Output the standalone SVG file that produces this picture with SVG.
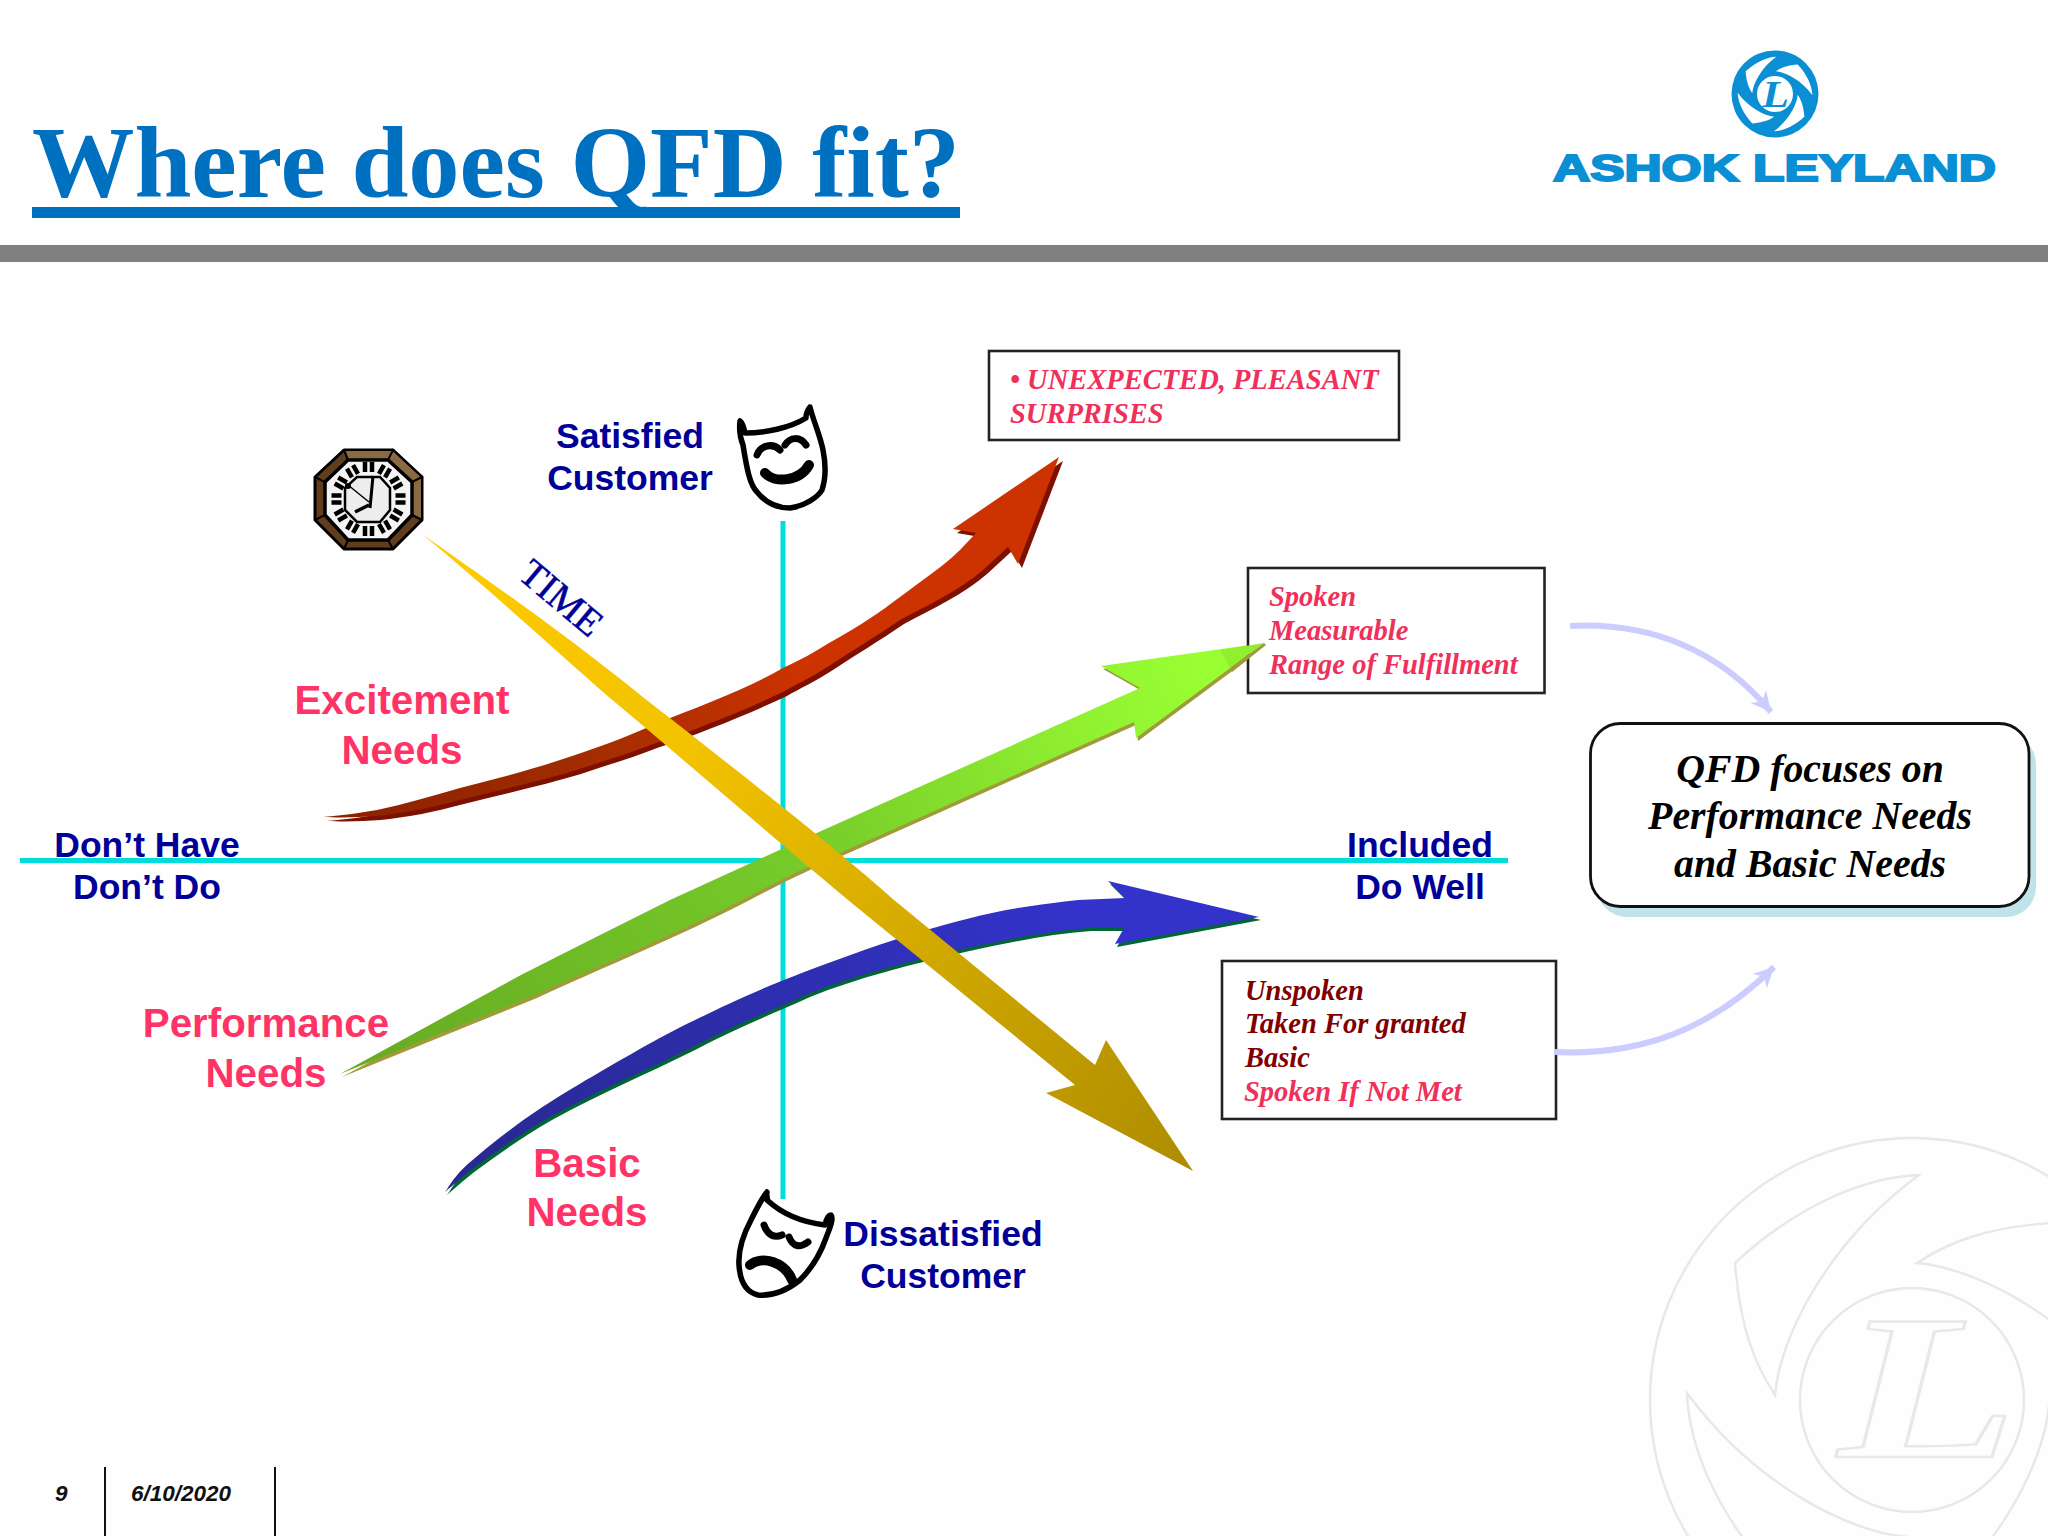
<svg xmlns="http://www.w3.org/2000/svg" xmlns:xlink="http://www.w3.org/1999/xlink" width="2048" height="1536" viewBox="0 0 2048 1536">
<style>
.lab{font-family:"Liberation Sans",Arial,sans-serif;font-weight:bold;text-anchor:middle}
.blue{fill:#000099;font-size:35.5px}
.pink{fill:#ff3366;font-size:40.3px}
.note{font-family:"Liberation Serif","Times New Roman",serif;font-style:italic;font-weight:bold;font-size:28.5px}
.red{fill:#f0305a}
.maroon{fill:#800000}
.box{fill:#fff;stroke:#222;stroke-width:2.6}
.axis{fill:#00dddd}
.curve{fill:none;stroke:#ccccff;stroke-width:6;marker-end:url(#mh)}
.foot{font-family:"Liberation Sans",Arial,sans-serif;font-weight:bold;font-style:italic;font-size:22.5px;fill:#111}
.face{fill:#fff;stroke:#000;stroke-width:5.5;stroke-linejoin:round;stroke-linecap:round}
.ink{fill:none;stroke:#000;stroke-linecap:round;stroke-width:7}
.wm{fill:none;stroke:#e7e7ec;stroke-width:2.4}
</style>
<defs>
<marker id="mh" markerUnits="userSpaceOnUse" markerWidth="26" markerHeight="26" refX="20" refY="10" orient="auto"><path d="M0,0L20,10L0,20L6,10Z" fill="#ccccff"/></marker>
<linearGradient id="gRed" gradientUnits="userSpaceOnUse" x1="324" y1="820" x2="800" y2="660"><stop offset="0" stop-color="#8a1f00"/><stop offset="0.5" stop-color="#a02c00"/><stop offset="1" stop-color="#cc3300"/></linearGradient>
<linearGradient id="gGreen" gradientUnits="userSpaceOnUse" x1="343" y1="1072" x2="1200" y2="660"><stop offset="0" stop-color="#66aa22"/><stop offset="0.55" stop-color="#77cc2a"/><stop offset="0.85" stop-color="#90f030"/><stop offset="1" stop-color="#99ff33"/></linearGradient>
<linearGradient id="gBlue" gradientUnits="userSpaceOnUse" x1="445" y1="1192" x2="1100" y2="900"><stop offset="0" stop-color="#28288f"/><stop offset="1" stop-color="#3333cc"/></linearGradient>
<linearGradient id="gYel" gradientUnits="userSpaceOnUse" x1="420" y1="534" x2="1193" y2="1171"><stop offset="0" stop-color="#ffcc00"/><stop offset="0.35" stop-color="#f2c200"/><stop offset="1" stop-color="#ad8c00"/></linearGradient>
<path id="blade" d="M7,-225C-45,-223 -112,-197 -177,-137C-172,-73 -158,-37 -137,-5C-132,-63 -85,-157 7,-225Z"/>
<path id="redA" d="M323,817C345,815 360,813 377,810C405,804 432,796 460,788C495,779 530,770 560,760C590,750 625,738 653,725C700,706 745,690 783,668C800,660 815,652 829,643C860,626 880,612 900,597C925,578 945,565 960,550L976,533L953,529L1059,457L1018,564L1008,547L983,570C960,590 930,604 900,620C875,637 850,652 829,666C810,678 795,685 783,692C740,712 700,728 653,744C625,755 600,762 577,770C540,781 500,790 460,800C430,808 405,813 377,816C360,817 345,818 323,817Z"/>
<path id="greenA" d="M340,1074L521,975C570,950 620,925 670,900L810,836L1140,688L1101,666L1264,643L1136,738L1134,722L849,849C800,870 780,880 742,900C680,932 600,965 535,995Z"/>
<path id="blueA" d="M445,1192C449,1187 453.500,1176.700 469,1163C484.500,1149.300 510.700,1128.300 538,1110C565.300,1091.700 606.200,1068.300 633,1053C659.800,1037.700 674.700,1029.800 699,1018C723.300,1006.200 746.500,995 779,982C811.500,969 858.500,951.500 894,940C929.500,928.500 961.300,919.700 992,913C1022.700,906.300 1056,902.500 1078,900L1125,898L1108,881L1259,917L1115,944L1124,928L1089,928C1047,931 1005,940 963,949C910,961 855,975 808,994C768,1012 730,1027 693,1047C645,1071 597,1091 550,1117C522,1133 498,1150 475,1167C463,1176 453,1185 445,1192Z"/>
</defs>
<rect width="2048" height="1536" fill="#fefefe"/>
<g id="watermark" class="wm">
<circle cx="1912" cy="1400" r="262"/><circle cx="1912" cy="1400" r="112"/>
<g transform="translate(1912,1400)"><use xlink:href="#blade"/><use xlink:href="#blade" transform="rotate(90)"/><use xlink:href="#blade" transform="rotate(180)"/><use xlink:href="#blade" transform="rotate(270)"/></g>
<text x="1838" y="1457" font-family="Liberation Serif,serif" font-weight="bold" font-style="italic" font-size="207" textLength="180" lengthAdjust="spacingAndGlyphs">L</text>
</g>
<g id="header">
<rect x="0" y="245" width="2048" height="17" fill="#808080"/>
<text x="32" y="197" font-family="Liberation Serif,'Times New Roman',serif" font-weight="bold" font-size="102.400" fill="#0070c0">Where does QFD fit?</text>
<rect x="32" y="207" width="928" height="11" fill="#0070c0"/>
</g>
<g id="logo">
<circle cx="1775" cy="94" r="43.5" fill="#0b8fd4"/>
<g transform="translate(1775,94) scale(0.166)" fill="#fff"><use xlink:href="#blade"/><use xlink:href="#blade" transform="rotate(90)"/><use xlink:href="#blade" transform="rotate(180)"/><use xlink:href="#blade" transform="rotate(270)"/></g>
<circle cx="1775" cy="94" r="18" fill="#fff"/>
<text x="1762" y="107" font-family="Liberation Serif,serif" font-weight="bold" font-style="italic" font-size="38" fill="#0b8fd4" textLength="27" lengthAdjust="spacingAndGlyphs">L</text>
<text x="1553" y="180.500" font-family="Liberation Sans,Arial,sans-serif" font-weight="bold" font-size="36" fill="#0b8fd4" stroke="#0b8fd4" stroke-width="2" textLength="443" lengthAdjust="spacingAndGlyphs">ASHOK LEYLAND</text>
</g>
<g id="connectors">
<rect class="axis" x="20" y="858" width="1488" height="5"/>
<rect class="axis" x="780.500" y="521" width="5" height="678"/>
<use xlink:href="#redA" transform="translate(4,4)" fill="#7d1000"/>
<use xlink:href="#redA" fill="url(#gRed)"/>
<use xlink:href="#greenA" transform="translate(2,3)" fill="#a09a3a"/>
<use xlink:href="#greenA" fill="url(#gGreen)"/>
<use xlink:href="#blueA" transform="translate(2,3)" fill="#006633"/>
<use xlink:href="#blueA" fill="url(#gBlue)"/>
<path fill="url(#gYel)" d="M422,534C480,575 560,630 644,698C730,765 820,835 894,900L1095,1065L1106,1040L1193,1171L1046,1093L1075,1085L848,900C770,835 690,765 610,698C555,650 490,590 422,534Z"/>
</g>
<g id="clock">
<path d="M344,450H393L422,477V520L393,549H344L315,520V477Z" fill="#5f3d1d" stroke="#000" stroke-width="3" stroke-linejoin="round"/>
<path d="M344,450H393L388,460H348ZM393,450L422,477L412,482L388,460ZM422,477V520L412,515V482Z" fill="#8a6a42" stroke="#000" stroke-width="2"/>
<path d="M344,549L348,540H388L393,549M315,520L325,515V482L315,477M344,450L348,460L325,482M393,549L388,540L412,515L422,520" fill="none" stroke="#000" stroke-width="2"/>
<path d="M348,460H388L412,482V515L388,540H348L325,515V482Z" fill="#f4f4f4" stroke="#000" stroke-width="3.500"/>
<g transform="translate(368.500,499)" fill="none" stroke="#000" stroke-width="4.500">
<path id="numeral" d="M-3.500,-37V-27M3.500,-37V-27"/>
<use xlink:href="#numeral" transform="rotate(30)"/><use xlink:href="#numeral" transform="rotate(60)"/><use xlink:href="#numeral" transform="rotate(90)"/><use xlink:href="#numeral" transform="rotate(120)"/><use xlink:href="#numeral" transform="rotate(150)"/><use xlink:href="#numeral" transform="rotate(180)"/><use xlink:href="#numeral" transform="rotate(210)"/><use xlink:href="#numeral" transform="rotate(240)"/><use xlink:href="#numeral" transform="rotate(270)"/><use xlink:href="#numeral" transform="rotate(300)"/><use xlink:href="#numeral" transform="rotate(330)"/>
</g>
<path d="M357,477H380L390,488V510L380,522H357L345,510V488Z" fill="#ededed" stroke="#000" stroke-width="2.500"/>
<path d="M370,508L373,476" stroke="#000" stroke-width="3" fill="none"/>
<path d="M369,502L348,485" stroke="#000" stroke-width="1.500" fill="none"/>
<path d="M369,505L355,512" stroke="#000" stroke-width="3.500" fill="none"/>
<circle cx="348" cy="486" r="3"/>
</g>
<g id="happy-mask">
<path class="face" d="M740,421C739,430 741,440 743,445C747,470 750,485 757,492C766,503 778,508 790,508C805,506 818,497 822,490C826,478 826,465 823,450C820,435 813,420 810,407C806,412 806,416 806,418C790,428 765,433 745,433C744,428 743,423 740,421Z"/>
<path class="ink" d="M757,455C760,446 772,442 780,450M785,445C790,437 800,436 806,445"/>
<path class="ink" style="stroke-width:10" d="M765,473C775,484 800,481 809,465"/>
</g>
<g id="sad-mask">
<path class="face" d="M767,1192C766,1196 768,1198 767,1200C780,1212 800,1222 825,1225C826,1220 828,1215 831,1215C834,1218 830,1228 826,1238C820,1255 810,1270 800,1280C785,1292 770,1296 758,1295C745,1292 740,1280 739,1265C738,1250 743,1235 751,1220C757,1208 762,1198 767,1192Z"/>
<path class="ink" d="M764,1225C768,1236 775,1238 782,1235M789,1237C793,1247 800,1248 808,1242"/>
<path class="ink" style="stroke-width:10" d="M750,1265C762,1255 785,1262 792,1280"/>
</g>
<g id="axis-labels">
<text class="lab blue"><tspan x="630" y="448">Satisfied</tspan><tspan x="630" y="490">Customer</tspan></text>
<text class="lab blue"><tspan x="943" y="1246">Dissatisfied</tspan><tspan x="943" y="1288">Customer</tspan></text>
<text class="lab blue"><tspan x="147" y="857">Don’t Have</tspan><tspan x="147" y="899">Don’t Do</tspan></text>
<text class="lab blue"><tspan x="1420" y="857">Included</tspan><tspan x="1420" y="899">Do Well</tspan></text>
<text x="553" y="608" transform="rotate(40 553 608)" font-family="Liberation Serif,serif" font-size="39" fill="#000099" stroke="#000099" stroke-width="0.500" text-anchor="middle">TIME</text>
</g>
<g id="need-labels">
<text class="lab pink"><tspan x="402" y="714">Excitement</tspan><tspan x="402" y="764">Needs</tspan></text>
<text class="lab pink"><tspan x="266" y="1037">Performance</tspan><tspan x="266" y="1087">Needs</tspan></text>
<text class="lab pink"><tspan x="587" y="1177">Basic</tspan><tspan x="587" y="1226">Needs</tspan></text>
</g>
<g id="box-excitement">
<rect class="box" x="989" y="351" width="410" height="89"/>
<text class="note red"><tspan x="1010" y="389">• UNEXPECTED, PLEASANT</tspan><tspan x="1010" y="423">SURPRISES</tspan></text>
</g>
<g id="box-performance">
<rect class="box" x="1248" y="568" width="296.500" height="125"/>
<path d="M1220,650L1264,643L1230,668Z" fill="#90f030"/><path d="M1230,668L1264,643L1266,645L1232,672Z" fill="#a09a3a"/>
<text class="note red"><tspan x="1269" y="606">Spoken</tspan><tspan x="1269" y="640">Measurable</tspan><tspan x="1269" y="674">Range of Fulfillment</tspan></text>
</g>
<g id="box-basic">
<rect class="box" x="1222" y="961" width="334" height="158"/>
<text class="note"><tspan class="maroon" x="1245" y="1000">Unspoken</tspan><tspan class="maroon" x="1245" y="1033">Taken For granted</tspan><tspan class="maroon" x="1245" y="1067">Basic</tspan><tspan class="red" x="1244" y="1101">Spoken If Not Met</tspan></text>
</g>
<g id="box-qfd">
<rect x="1597" y="734" width="439" height="183" rx="30" fill="#bfe3e8"/>
<rect x="1590.500" y="723.500" width="438.500" height="183" rx="30" fill="#fff" stroke="#111" stroke-width="2.800"/>
<text font-family="Liberation Serif,serif" font-style="italic" font-weight="bold" font-size="39.800" fill="#000" text-anchor="middle"><tspan x="1810" y="782">QFD focuses on</tspan><tspan x="1810" y="829">Performance Needs</tspan><tspan x="1810" y="877">and Basic Needs</tspan></text>
</g>
<g id="connector-curves">
<path class="curve" d="M1570,626C1650,622 1720,650 1771,712"/>
<path class="curve" d="M1554,1052C1640,1056 1710,1030 1774,967"/>
</g>
<g id="footer">
<text class="foot" x="55" y="1501">9</text>
<text class="foot" x="131" y="1501">6/10/2020</text>
<path d="M105,1467V1536M275,1467V1536" stroke="#111" stroke-width="2"/>
</g>
</svg>
